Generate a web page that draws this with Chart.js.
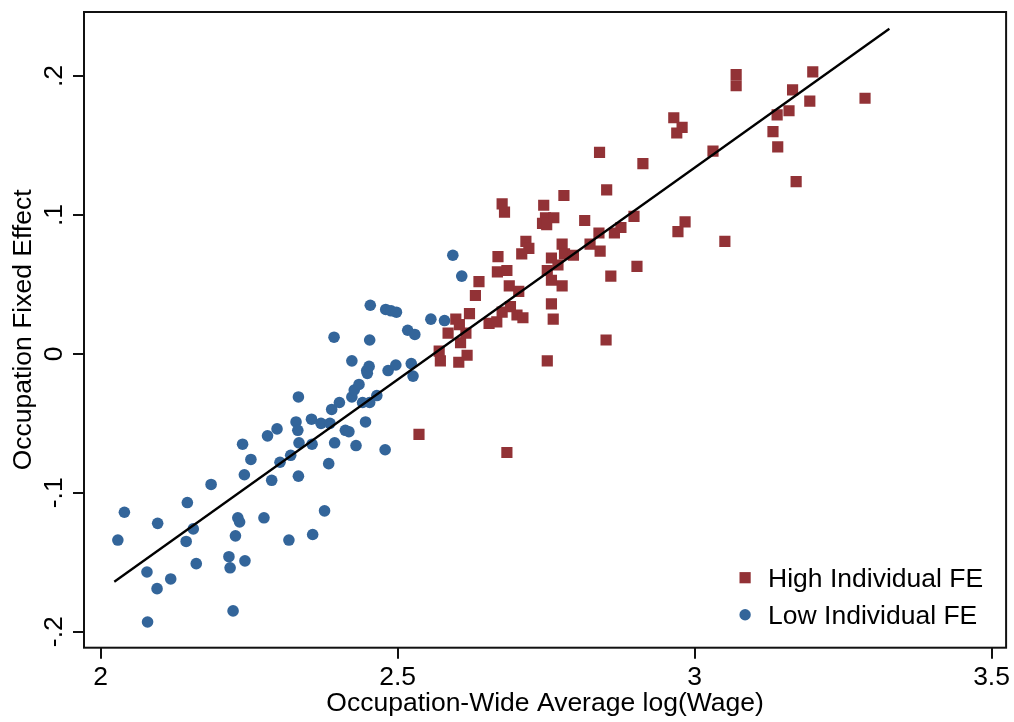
<!DOCTYPE html>
<html>
<head>
<meta charset="utf-8">
<script src="https://cdn.jsdelivr.net/npm/chart.js@4.4.1/dist/chart.umd.min.js"></script>
<style>
  html, body { margin: 0; padding: 0; background: #fff; }
  #wrap { width: 1014px; height: 722px; }
</style>
</head>
<body>
<div id="wrap"><canvas id="fe-chart"></canvas></div>
<script>
// occupations where the individual FE is high (red squares)
const highX = [2.536, 2.684, 2.570, 2.572, 2.585, 2.598, 2.604, 2.606, 2.615, 2.603,
  2.617, 2.621, 2.631, 2.637, 2.654, 2.667, 2.676, 2.690, 2.701, 2.711,
  2.668, 2.684, 2.669, 2.688, 2.704, 2.676, 2.680, 2.709, 2.716, 2.721,
  2.746, 2.749, 2.763, 2.744, 2.751, 2.752, 2.759, 2.770, 2.759, 2.777,
  2.777, 2.781, 2.796, 2.759, 2.762, 2.752, 2.780, 2.815, 2.824, 2.841,
  2.839, 2.865, 2.876, 2.898, 2.859, 2.851, 2.903, 2.852, 2.840, 2.913,
  2.965, 2.979, 2.970, 2.984, 2.972, 3.051, 3.031, 3.070, 3.070, 3.132,
  3.139, 3.140, 3.159, 3.165, 3.171, 3.194, 3.199, 3.287];
const highY = [-0.058, -0.071, 0.002, -0.005, 0.015, 0.025, 0.021, 0.008, 0.015, -0.006,
  -0.001, 0.029, 0.042, 0.052, 0.022, 0.023, 0.030, 0.034, 0.028, 0.026,
  0.059, 0.060, 0.070, 0.049, 0.045, 0.108, 0.102, 0.072, 0.081, 0.076,
  0.107, 0.098, 0.098, 0.094, 0.093, 0.060, 0.069, 0.064, 0.053, 0.049,
  0.079, 0.072, 0.071, 0.036, 0.025, -0.005, 0.114, 0.096, 0.079, 0.074,
  0.087, 0.087, 0.091, 0.099, 0.056, 0.010, 0.063, 0.118, 0.145, 0.137,
  0.170, 0.163, 0.159, 0.095, 0.088, 0.081, 0.146, 0.201, 0.193, 0.160,
  0.172, 0.149, 0.175, 0.190, 0.124, 0.182, 0.203, 0.184];

// occupations where the individual FE is low (blue circles)
const lowX = [2.029, 2.040, 2.078, 2.095, 2.079, 2.096, 2.118, 2.144, 2.146, 2.156,
  2.161, 2.186, 2.216, 2.218, 2.223, 2.227, 2.231, 2.234, 2.239, 2.242,
  2.243, 2.253, 2.275, 2.281, 2.288, 2.297, 2.302, 2.317, 2.320, 2.329,
  2.332, 2.333, 2.334, 2.333, 2.355, 2.356, 2.357, 2.371, 2.377, 2.384,
  2.386, 2.389, 2.393, 2.394, 2.402, 2.412, 2.418, 2.423, 2.427, 2.435,
  2.423, 2.430, 2.441, 2.446, 2.449, 2.448, 2.452, 2.453, 2.454, 2.453,
  2.465, 2.479, 2.484, 2.480, 2.489, 2.498, 2.497, 2.517, 2.523, 2.526,
  2.529, 2.556, 2.579, 2.593, 2.608];
const lowY = [-0.134, -0.114, -0.157, -0.169, -0.193, -0.122, -0.162, -0.135, -0.107, -0.126,
  -0.151, -0.094, -0.146, -0.154, -0.185, -0.131, -0.118, -0.121, -0.065, -0.087,
  -0.149, -0.076, -0.118, -0.059, -0.091, -0.054, -0.078, -0.134, -0.073, -0.049,
  -0.055, -0.031, -0.064, -0.088, -0.047, -0.065, -0.130, -0.050, -0.113, -0.079,
  -0.050, -0.040, 0.012, -0.064, -0.035, -0.055, -0.056, -0.031, -0.026, -0.022,
  -0.005, -0.066, -0.035, -0.049, -0.014, -0.012, -0.009, -0.035, 0.035, 0.010,
  -0.030, -0.069, -0.012, 0.032, 0.031, 0.030, -0.008, 0.017, -0.007, -0.016,
  0.014, 0.025, 0.024, 0.071, 0.056];

// fitted line end points
const fitX = [2.023, 3.328];
const fitY = [-0.164, 0.234];

const xTickValues = [2, 2.5, 3, 3.5];
const xTickLabels = ['2', '2.5', '3', '3.5'];
const yTickValues = [-0.2, -0.1, 0, 0.1, 0.2];
const yTickLabels = ['-.2', '-.1', '0', '.1', '.2'];
const seriesNames = ['High Individual FE', 'Low Individual FE'];

const RED = '#923236';
const BLUE = '#33659a';
const INK = '#111';
const FONT_FAMILY = "'Liberation Sans', Arial, Helvetica, sans-serif";
const FONT_SIZE = 26.5;

function toPoints(xs, ys) {
    return xs.map((x, i) => ({ x: x, y: ys[i] }));
}

// box around the plot region
const framePlugin = {
    id: 'frame',
    afterDraw(chart) {
        const { ctx, chartArea: a } = chart;
        ctx.save();
        ctx.strokeStyle = INK;
        ctx.lineWidth = 2;
        ctx.strokeRect(a.left, a.top, a.right - a.left, a.bottom - a.top);
        ctx.restore();
    }
};

// y tick labels are drawn turned 90 degrees, like the original
const yLabelPlugin = {
    id: 'yTickLabels',
    afterDraw(chart) {
        const { ctx } = chart;
        const y = chart.scales.y;
        ctx.save();
        ctx.font = FONT_SIZE + 'px ' + FONT_FAMILY;
        ctx.fillStyle = '#000';
        ctx.textAlign = 'center';
        ctx.textBaseline = 'alphabetic';
        yTickValues.forEach((v, i) => {
            ctx.save();
            ctx.translate(y.right - 22, y.getPixelForValue(v));
            ctx.rotate(-Math.PI / 2);
            ctx.fillText(yTickLabels[i], 0, 0);
            ctx.restore();
        });
        ctx.restore();
    }
};

// legend sits in the lower right corner inside the plot
const legendPlugin = {
    id: 'cornerLegend',
    afterDraw(chart) {
        const { ctx, chartArea: a } = chart;
        const mx = a.right - 261;
        const rows = [a.bottom - 70, a.bottom - 33];
        ctx.save();
        ctx.fillStyle = RED;
        ctx.fillRect(mx - 5.6, rows[0] - 5.6, 11.2, 11.2);
        ctx.fillStyle = BLUE;
        ctx.beginPath();
        ctx.arc(mx, rows[1], 5.7, 0, Math.PI * 2);
        ctx.fill();
        ctx.fillStyle = '#000';
        ctx.font = FONT_SIZE + 'px ' + FONT_FAMILY;
        ctx.textAlign = 'left';
        ctx.textBaseline = 'alphabetic';
        seriesNames.forEach((name, i) => {
            ctx.fillText(name, mx + 23, rows[i] + 9.5);
        });
        ctx.restore();
    }
};

const axisFont = { family: FONT_FAMILY, size: FONT_SIZE };

new Chart(document.getElementById('fe-chart'), {
    type: 'scatter',
    data: {
        datasets: [
            {
                label: 'Fit',
                data: toPoints(fitX, fitY),
                showLine: true,
                borderColor: '#000',
                borderWidth: 2.3,
                pointRadius: 0,
                fill: false,
                order: 0
            },
            {
                label: seriesNames[0],
                data: toPoints(highX, highY),
                pointStyle: 'rect',
                pointRadius: 7.9,
                backgroundColor: RED,
                borderWidth: 0,
                order: 1
            },
            {
                label: seriesNames[1],
                data: toPoints(lowX, lowY),
                pointStyle: 'circle',
                pointRadius: 5.8,
                backgroundColor: BLUE,
                borderWidth: 0,
                order: 2
            }
        ]
    },
    options: {
        responsive: true,
        maintainAspectRatio: false,
        animation: false,
        events: [],
        layout: { padding: { top: 12, right: 7.3, left: 0, bottom: 0 } },
        plugins: {
            legend: { display: false },
            tooltip: { enabled: false }
        },
        scales: {
            x: {
                type: 'linear',
                min: 1.972,
                max: 3.5245,
                afterBuildTicks: s => { s.ticks = xTickValues.map(v => ({ value: v })); },
                afterFit: s => { s.height = 74.3; },
                ticks: {
                    font: axisFont,
                    color: '#000',
                    padding: 3,
                    maxRotation: 0,
                    autoSkip: false,
                    callback: (v, i) => xTickLabels[i]
                },
                grid: { drawOnChartArea: false, drawTicks: true, tickLength: 11, color: INK, lineWidth: 2 },
                border: { display: false },
                title: {
                    display: true,
                    text: 'Occupation-Wide Average log(Wage)',
                    font: axisFont,
                    color: '#000',
                    padding: { top: 0, bottom: 2 }
                }
            },
            y: {
                type: 'linear',
                min: -0.2115,
                max: 0.2461,
                afterBuildTicks: s => { s.ticks = yTickValues.map(v => ({ value: v })); },
                afterFit: s => { s.width = 84; },
                ticks: { display: false },
                grid: { drawOnChartArea: false, drawTicks: true, tickLength: 11, color: INK, lineWidth: 2 },
                border: { display: false },
                title: {
                    display: true,
                    text: 'Occupation Fixed Effect',
                    font: axisFont,
                    color: '#000',
                    padding: { top: 8, bottom: 0 }
                }
            }
        }
    },
    plugins: [framePlugin, yLabelPlugin, legendPlugin]
});
</script>
</body>
</html>
